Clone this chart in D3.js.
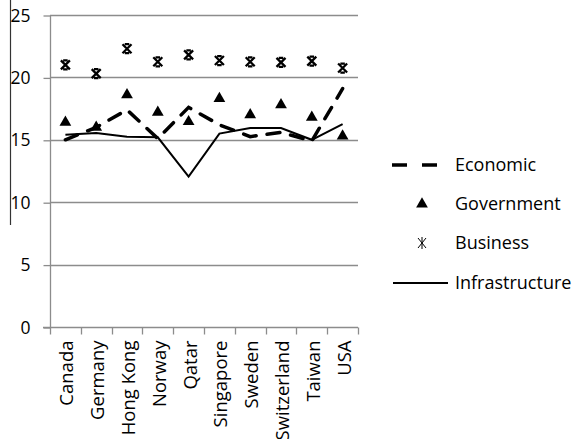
<!DOCTYPE html>
<html>
<head>
<meta charset="utf-8">
<script src="https://cdnjs.cloudflare.com/ajax/libs/d3/7.8.5/d3.min.js"></script>
<style>
  html, body { margin: 0; padding: 0; background: #fff; }
  svg { display: block; font-family: "Open Sans", Lato, sans-serif; }
</style>
</head>
<body>
<svg id="chart" width="575" height="439"></svg>
<script>
// Country scores by pillar
const countries = ["Canada", "Germany", "Hong Kong", "Norway", "Qatar", "Singapore", "Sweden", "Switzerland", "Taiwan", "USA"];
const economic = [15.0, 16.0, 17.4, 15.1, 17.6, 16.2, 15.25, 15.6, 14.9, 19.1];
const government = [16.4, 16.0, 18.6, 17.2, 16.45, 18.3, 17.0, 17.8, 16.8, 15.3];
const business = [21.0, 20.3, 22.3, 21.25, 21.8, 21.35, 21.25, 21.2, 21.3, 20.75];
const infrastructure = [15.4, 15.55, 15.25, 15.2, 12.05, 15.5, 15.95, 15.95, 15.0, 16.25];
const yTicks = [0, 5, 10, 15, 20, 25];
const legendLabels = ["Economic", "Government", "Business", "Infrastructure"];

const svg = d3.select("#chart");
const plotLeft = 50, plotRight = 358, plotTop = 15, plotBottom = 327;
const gridColor = "#8c8c8c";
const font = "'Open Sans', Lato, sans-serif";

const x = d3.scaleBand().domain(countries).range([plotLeft, plotRight]);
const y = d3.scaleLinear().domain([0, 25]).range([plotBottom, plotTop]);
const cx = c => x(c) + x.bandwidth() / 2;

// stray border stroke at the left edge
svg.append("line").attr("x1", 10.5).attr("x2", 10.5).attr("y1", 0).attr("y2", 225)
  .attr("stroke", "#333").attr("stroke-width", 1.2);

// horizontal gridlines
svg.append("g").selectAll("line").data(yTicks.filter(t => t > 0)).join("line")
  .attr("x1", plotLeft).attr("x2", plotRight)
  .attr("y1", d => Math.round(y(d)) + 0.5).attr("y2", d => Math.round(y(d)) + 0.5)
  .attr("stroke", gridColor).attr("stroke-width", 1.3);

// y axis
const yAxis = svg.append("g").attr("transform", `translate(${plotLeft + 0.5},0.5)`)
  .call(d3.axisLeft(y).tickValues(yTicks).tickSize(7).tickPadding(13));
yAxis.select(".domain").attr("stroke", gridColor).attr("stroke-width", 1.3)
  .attr("d", `M0,${y(25)}V${y(0)}`);
yAxis.selectAll(".tick line").attr("stroke", gridColor).attr("stroke-width", 1.3);
yAxis.selectAll(".tick text").attr("font-size", 17.5).attr("fill", "#000")
  .attr("font-family", font);

// x axis with ticks at category boundaries
const xg = svg.append("g").attr("transform", `translate(0,${Math.round(plotBottom) + 0.5})`);
xg.append("line").attr("x1", plotLeft - 7).attr("x2", plotRight).attr("stroke", gridColor).attr("stroke-width", 1.3);
const bounds = countries.map(c => x(c)).concat([plotRight]);
xg.selectAll("line.tk").data(bounds).join("line").attr("class", "tk")
  .attr("x1", d => Math.round(d) + 0.5).attr("x2", d => Math.round(d) + 0.5)
  .attr("y1", 0).attr("y2", 7).attr("stroke", gridColor).attr("stroke-width", 1.3);
xg.selectAll("text").data(countries).join("text")
  .attr("transform", d => `translate(${cx(d) + 8},13) rotate(-90)`)
  .attr("text-anchor", "end").attr("font-size", 18.5).attr("fill", "#000")
  .text(d => d);

// Infrastructure: solid line
const line = d3.line().x((d, i) => cx(countries[i])).y(d => y(d));
svg.append("path").datum(infrastructure).attr("d", line)
  .attr("fill", "none").attr("stroke", "#000").attr("stroke-width", 2);

// Economic: dashed line
svg.append("path").datum(economic).attr("d", line)
  .attr("fill", "none").attr("stroke", "#000").attr("stroke-width", 3.5)
  .attr("stroke-dasharray", "13,11").attr("stroke-linecap", "round");

// Government: triangles
const tri = d3.symbol().type(d3.symbolTriangle).size(60);
svg.append("g").selectAll("path").data(government).join("path")
  .attr("d", tri)
  .attr("transform", (d, i) => `translate(${cx(countries[i])},${y(d)})`)
  .attr("fill", "#000");

// Business: star markers (x with short caps)
function star(g, px, py, r, w) {
  g.append("path")
    .attr("d", `M${px - r},${py - r}L${px + r},${py + r}M${px - r},${py + r}L${px + r},${py - r}M${px - r * 0.5},${py - r}H${px + r * 0.5}M${px - r * 0.5},${py + r}H${px + r * 0.5}`)
    .attr("stroke", "#000").attr("stroke-width", w).attr("fill", "none");
}
const bg = svg.append("g");
business.forEach((d, i) => star(bg, cx(countries[i]), y(d), 4.5, 2.3));

// legend
const lg = svg.append("g");
const rowsY = [165, 204, 243, 283];
lg.append("line").attr("x1", 392).attr("x2", 437).attr("y1", rowsY[0]).attr("y2", rowsY[0])
  .attr("stroke", "#000").attr("stroke-width", 3.5).attr("stroke-dasharray", "15,15");
lg.append("path").attr("d", tri).attr("transform", `translate(422,${rowsY[1]})`).attr("fill", "#000");
lg.append("path")
  .attr("d", `M418,${rowsY[2] - 5}L426,${rowsY[2] + 5}M418,${rowsY[2] + 5}L426,${rowsY[2] - 5}M422,${rowsY[2] - 6}V${rowsY[2] + 6}`)
  .attr("stroke", "#000").attr("stroke-width", 1).attr("fill", "none");
lg.append("line").attr("x1", 393).attr("x2", 448).attr("y1", rowsY[3]).attr("y2", rowsY[3])
  .attr("stroke", "#000").attr("stroke-width", 1.8);
lg.selectAll("text").data(legendLabels).join("text")
  .attr("x", 455).attr("y", (d, i) => rowsY[i]).attr("dy", "0.35em")
  .attr("font-size", 18).attr("fill", "#000").text(d => d);
</script>
</body>
</html>
